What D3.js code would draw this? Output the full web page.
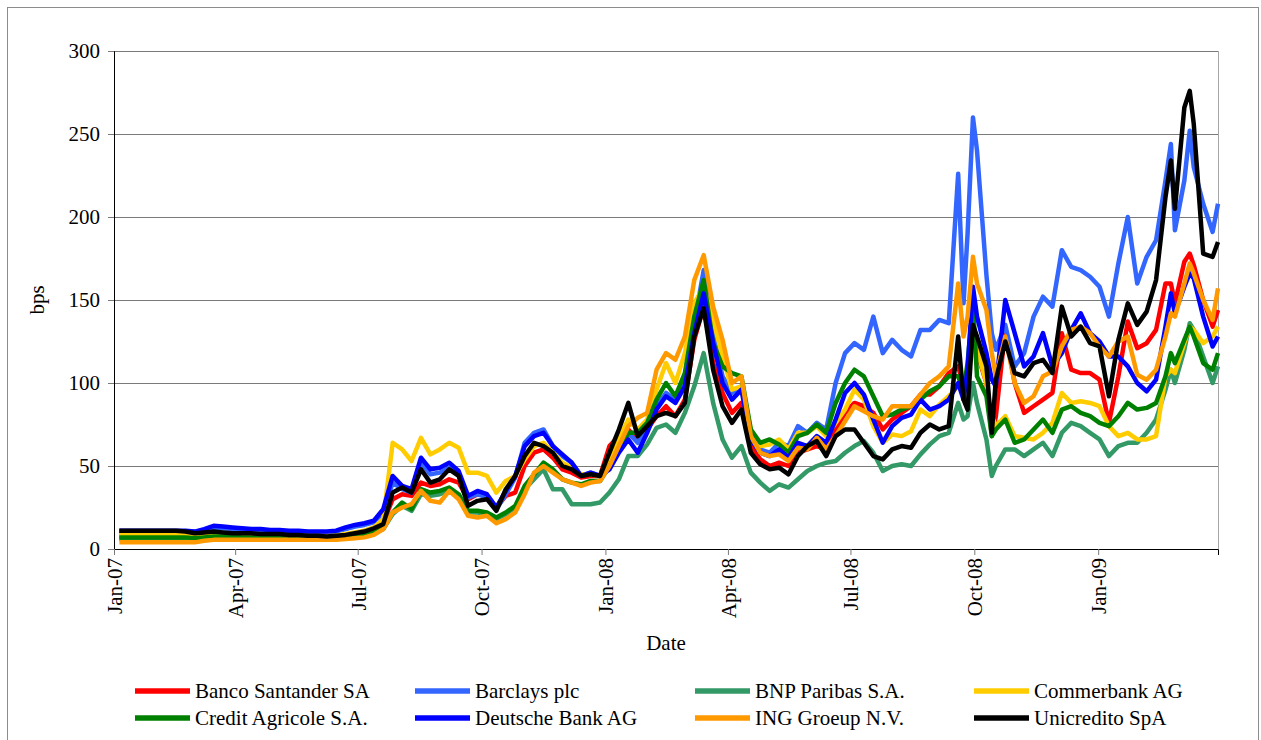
<!DOCTYPE html>
<html>
<head>
<meta charset="utf-8">
<script src="https://cdn.jsdelivr.net/npm/d3@7"></script>
<style>
    body { margin: 0; background: #fff; }
    text { font-family: "Liberation Serif", "Times New Roman", serif; }
</style>
</head>
<body>
<svg id="mainFrame"></svg>
<script>
// weekly fridays plus a few extra days where the spreads jump around
const weeklyDates = d3.timeFriday.range(new Date(2007, 0, 5), new Date(2009, 2, 28));
const extraDates = ['2008-09-23', '2008-09-30', '2008-10-14', '2009-02-24', '2009-03-10', '2009-03-31']
    .map(d3.timeParse('%Y-%m-%d'));
const dates = weeklyDates.concat(extraDates).sort((a, b) => a - b);

const seriesNames = ['Banco Santander SA', 'Barclays plc', 'BNP Paribas S.A.', 'Commerbank AG',
    'Credit Agricole S.A.', 'Deutsche Bank AG', 'ING Groeup N.V.', 'Unicredito SpA'];
const seriesColors = ['#ff0000', '#3366ff', '#339966', '#ffcc00', '#008000', '#0000ff', '#ff9900', '#000000'];

const santander = [
    7.5, 7.5, 7.5, 7.5, 7.5, 7.5, 7.5, 7.5, 7, 7.5,
    8, 8, 8, 8, 8, 7.5, 7.5, 7.5, 7.5, 7.5,
    7.5, 7.5, 7.5, 7.5, 8, 9, 10, 12, 16, 30,
    33, 32, 40, 38, 39, 42, 40, 30, 33, 32,
    25, 32, 34, 50, 58, 60, 55, 48, 46, 43,
    44, 44, 62, 68, 72, 66, 72, 80, 86, 80,
    90, 126, 146, 112, 94, 82, 88, 62, 54, 50,
    52, 50, 58, 60, 62, 60, 72, 82, 88, 86,
    82, 72, 78, 82, 86, 93, 93, 98, 106,
    110, 98, 106, 132, 118, 100, 68, 80,
    132, 100, 82, 86, 90, 94, 130, 108, 106, 106, 102, 76, 104, 137, 121, 124, 132, 160,
    160, 148, 173, 178, 171, 150, 134, 144
];
const barclays = [
    10.5, 10.5, 10.5, 10.5, 10.5, 10.5, 10.5, 10.5, 10, 11,
    13, 12.5, 12, 11.5, 11.5, 11, 11, 10.5, 10.5, 10,
    10, 10, 10, 10.5, 12, 13.5, 14.5, 16, 22, 40,
    36, 34, 52, 45, 46, 49, 45, 31, 33, 31,
    24, 33, 43, 64, 70, 72, 62, 56, 52, 44,
    46, 44, 52, 62, 70, 64, 74, 86, 94, 90,
    100, 136, 168, 130, 104, 94, 98, 68, 60, 58,
    64, 62, 74, 70, 76, 72, 100, 118, 124, 120,
    140, 118, 126, 120, 116, 132, 132, 138, 136,
    226, 148, 190, 260, 240, 165, 130, 120,
    135, 110, 118, 140, 152, 146, 180, 170, 168, 164, 158, 140, 172, 200, 160, 176, 186, 222,
    244, 192, 222, 252, 230, 208, 191, 208
];
const bnp = [
    6, 6, 6, 6, 6, 6, 6, 6, 5.5, 6,
    6.5, 6.5, 6.5, 6.5, 6.5, 6.5, 6.5, 6.5, 6.5, 6.5,
    6.5, 6.5, 6.5, 6.5, 6.5, 7, 7.5, 9, 12, 21,
    26, 23, 33, 32, 33, 35, 31, 22, 22, 20,
    18, 21, 25, 36, 42, 48, 36, 36, 27, 27,
    27, 28, 34, 42, 56, 56, 63, 73, 75, 70,
    82, 98, 118, 88, 66, 55, 62, 46, 40, 35,
    39, 37, 42, 47, 50, 52, 53, 58, 62, 65,
    58, 47, 50, 51, 50, 57, 63, 68, 70,
    88, 78, 80, 100, 88, 66, 44, 50,
    60, 60, 56, 60, 64, 56, 70, 76, 74, 70, 66, 56, 62, 64, 64, 70, 78, 96,
    108, 100, 120, 136, 132, 116, 100, 110
];
const commerzbank = [
    9, 9, 9, 9, 9, 9, 9, 9, 8, 8.5,
    8.5, 8.5, 8.5, 8.5, 8.5, 8.5, 8.5, 8.5, 8, 8,
    8, 8, 8, 8, 9, 10, 11, 13, 18, 64,
    60, 53, 67, 57, 60, 64, 61, 46, 46, 44,
    34, 41, 44, 54, 62, 64, 58, 52, 49, 45,
    45, 44, 55, 66, 78, 72, 78, 96, 112, 100,
    118, 148, 158, 138, 116, 96, 98, 72, 62, 63,
    66, 60, 70, 70, 74, 68, 76, 84, 96, 90,
    74, 64, 69, 68, 71, 84, 80, 87, 92,
    98, 94, 108, 132, 120, 100, 80, 74,
    80, 68, 67, 66, 70, 76, 94, 88, 89, 88, 86, 74, 68, 70, 66, 66, 68, 104,
    108, 106, 124, 134, 132, 124, 128, 134
];
const creditAgricole = [
    7, 7, 7, 7, 7, 7, 7, 7, 6.5, 7,
    7.5, 7.5, 7.5, 7, 7, 7, 7, 7, 7, 7,
    7, 7, 7, 7, 7.5, 8, 9, 10, 13, 22,
    28, 24, 36, 34, 35, 37, 33, 23, 23, 22,
    19, 22, 26, 38, 45, 52, 48, 42, 40, 39,
    41, 41, 50, 60, 70, 70, 76, 90, 100, 92,
    106, 140, 162, 124, 110, 106, 104, 72, 64, 66,
    63, 58, 68, 70, 75, 70, 88, 100, 108, 104,
    92, 80, 81, 84, 86, 90, 95, 98, 104,
    104, 96, 112, 148, 104, 92, 68, 72,
    78, 64, 66, 72, 78, 70, 84, 86, 82, 80, 76, 74, 80, 88, 84, 85, 88, 104,
    118, 112, 126, 134, 128, 112, 108, 118
];
const deutsche = [
    11, 11, 11, 11, 11, 11, 11, 11, 10.5, 12,
    14, 13.5, 13, 12.5, 12, 12, 11.5, 11.5, 11, 11,
    10.5, 10.5, 10.5, 11, 13, 14.5, 15.5, 17, 24, 44,
    38, 36, 55, 48, 49, 52, 47, 32, 35, 33,
    25, 35, 44, 62, 68, 70, 62, 57, 52, 44,
    46, 44, 48, 58, 66, 58, 70, 84, 92, 88,
    98, 130, 154, 124, 100, 90, 96, 66, 58, 56,
    60, 55, 64, 62, 68, 64, 78, 94, 100, 93,
    78, 64, 74, 79, 81, 90, 84, 86, 90,
    100, 90, 108, 158, 140, 118, 102, 98,
    150, 130, 110, 116, 130, 110, 118, 132, 142, 130, 125, 116, 116, 110, 100, 95, 102, 134,
    154, 142, 158, 166, 163, 140, 122, 128
];
const ing = [
    4, 4, 4, 4, 4, 4, 4, 4, 4, 5,
    5.5, 5.5, 5.5, 5.5, 5.5, 5.5, 5.5, 5.5, 5.5, 5.5,
    5.5, 5.5, 5.5, 5.5, 6, 6.5, 7, 8.5, 12, 22,
    25, 27, 35, 29, 28, 35, 30, 20, 19, 20,
    15.5, 18, 22, 33, 46, 50, 46, 42, 40, 38,
    40, 41, 50, 62, 74, 79, 82, 108, 118, 114,
    128, 162, 177, 146, 126, 100, 104, 68, 58, 56,
    57, 53, 61, 60, 67, 60, 68, 77, 86, 83,
    80, 78, 86, 86, 86, 93, 100, 104, 110,
    160, 128, 140, 176, 160, 144, 118, 104,
    128, 100, 88, 92, 104, 107, 122, 132, 134, 130, 122, 116, 125, 128, 105, 102, 108, 128,
    142, 140, 160, 172, 166, 150, 138, 157
];
const unicredito = [
    11, 11, 11, 11, 11, 11, 11, 10.5, 9.5, 10,
    10.5, 10, 9.5, 9.5, 9.5, 9, 9, 9, 8.5, 8.5,
    8, 8, 7.5, 8, 8.5, 9.5, 10.5, 12.5, 15, 34,
    37, 34, 48, 40, 42, 48, 44, 26, 29, 30,
    23, 36, 44, 56, 64, 62, 58, 50, 48, 44,
    45, 44, 58, 72, 88, 68, 74, 80, 82, 80,
    88, 128, 145, 108, 86, 76, 84, 58, 51, 48,
    49, 45, 56, 62, 65, 56, 68, 72, 72, 64,
    56, 54, 60, 62, 61, 70, 75, 72, 74,
    128, 90, 84, 135, 128, 110, 70, 102,
    125, 106, 104, 112, 114, 106, 146, 128, 134, 124, 122, 92, 126, 148, 135, 143, 162, 212,
    234, 205, 266, 276, 256, 178, 176, 185
];
const seriesValues = [santander, barclays, bnp, commerzbank, creditAgricole, deutsche, ing, unicredito];

const yTicks = [0, 50, 100, 150, 200, 250, 300];
const xTicks = ['2007-01-01', '2007-04-01', '2007-07-01', '2007-10-01', '2008-01-01',
    '2008-04-01', '2008-07-01', '2008-10-01', '2009-01-01'].map(d3.timeParse('%Y-%m-%d'));

const width = 1261, height = 740;
const svg = d3.select('#mainFrame')
    .attr('width', width)
    .attr('height', height);

const margin = {top: 51, right: 43, bottom: 191, left: 114};
const plotW = width - margin.left - margin.right;
const plotH = height - margin.top - margin.bottom;

// chart frame
svg.append('rect')
    .attr('x', 7.5).attr('y', 7.5)
    .attr('width', 1251).attr('height', 760)
    .attr('fill', 'none')
    .attr('stroke', '#8c8c8c');

const g = svg.append('g')
    .attr('transform', `translate(${margin.left},${margin.top})`);

const x = d3.scaleTime()
    .domain([new Date(2007, 0, 1), new Date(2009, 2, 31)])
    .range([0, plotW]);
const y = d3.scaleLinear()
    .domain([0, 300])
    .range([plotH, 0]);

// grid
g.append('g')
    .call(d3.axisLeft(y).tickValues(yTicks.slice(1)).tickSize(-plotW).tickFormat(''))
    .call(a => a.select('.domain').remove())
    .selectAll('line').attr('stroke', '#7a7a7a');

g.append('line')
    .attr('x1', plotW + 0.5).attr('x2', plotW + 0.5)
    .attr('y1', 0).attr('y2', plotH)
    .attr('stroke', '#a6a6a6');

const line = d3.line()
    .x((d, i) => x(dates[i]))
    .y(d => y(d));

g.append('g')
    .selectAll('path')
    .data(seriesValues)
    .join('path')
    .attr('d', d => line(d))
    .attr('fill', 'none')
    .attr('stroke', (d, i) => seriesColors[i])
    .attr('stroke-width', 4.5)
    .attr('stroke-linejoin', 'round');

const yAxis = g.append('g')
    .call(d3.axisLeft(y).tickValues(yTicks).tickSize(6).tickPadding(8));
yAxis.selectAll('text').attr('font-size', 21).attr('font-family', '"Liberation Serif", serif').attr('fill', '#000');

const xAxis = g.append('g')
    .attr('transform', `translate(0,${plotH})`)
    .call(d3.axisBottom(x).tickValues(xTicks).tickFormat(d3.timeFormat('%b-%y')).tickSize(6));
xAxis.selectAll('text')
    .attr('transform', 'rotate(-90)')
    .attr('x', -9).attr('y', 0).attr('dy', '0.35em')
    .attr('text-anchor', 'end')
    .attr('font-size', 21).attr('font-family', '"Liberation Serif", serif').attr('fill', '#000');

[yAxis, xAxis].forEach(a => {
    a.select('.domain').attr('stroke', '#000');
    a.selectAll('.tick line').attr('stroke', '#7a7a7a');
});

g.append('text')
    .text('Date')
    .attr('x', plotW / 2)
    .attr('y', plotH + 101)
    .attr('text-anchor', 'middle')
    .attr('font-size', 21);

g.append('text')
    .text('bps')
    .attr('transform', `translate(${37 - margin.left},${plotH / 2}) rotate(-90)`)
    .attr('text-anchor', 'middle')
    .attr('dy', '0.35em')
    .attr('font-size', 21);

// legend, 4 per row
const legendCols = [135, 415, 695, 974];
const legendRows = [691, 718];
const legend = svg.append('g')
    .selectAll('g')
    .data(seriesNames)
    .join('g')
    .attr('transform', (d, i) => `translate(${legendCols[i % 4]},${legendRows[Math.floor(i / 4)]})`);

legend.append('line')
    .attr('x1', 0).attr('x2', 55)
    .attr('stroke', (d, i) => seriesColors[i])
    .attr('stroke-width', 5.5);

legend.append('text')
    .text(d => d)
    .attr('x', 60)
    .attr('dy', '0.35em')
    .attr('font-size', 21);
</script>
</body>
</html>
